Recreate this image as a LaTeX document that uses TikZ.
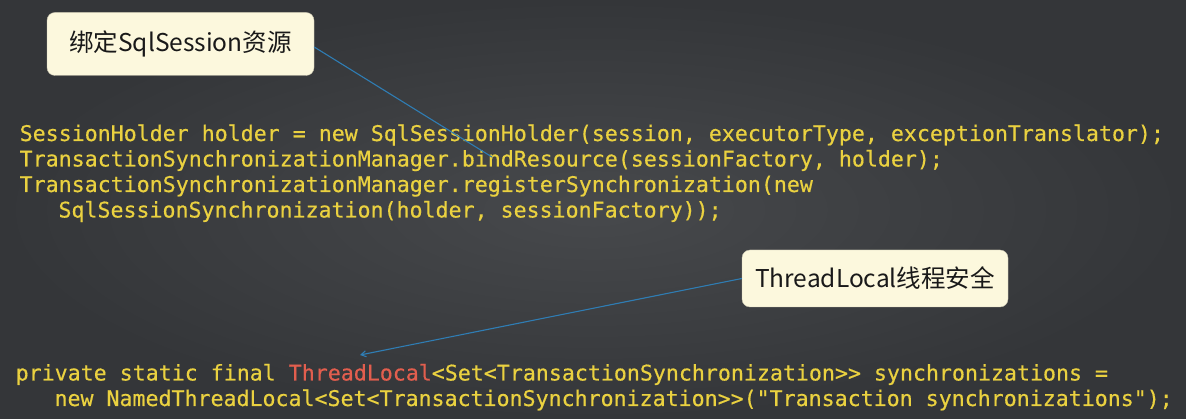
\documentclass[tikz,border=0pt]{standalone}
\usepackage{fontspec}
\setmonofont[FakeBold=0.4]{DejaVu Sans Mono}
\newfontfamily\cjk{Noto Sans CJK SC}
\usetikzlibrary{arrows.meta}
\definecolor{bgdark}{HTML}{343639}
\definecolor{bglight}{HTML}{47494C}
\definecolor{codeyellow}{HTML}{EAD140}
\definecolor{codered}{HTML}{E25E4E}
\definecolor{notefill}{HTML}{FCF8DD}
\definecolor{pointer}{HTML}{2F7DB4}
\tikzset{
  codeline/.style={anchor=base west, inner sep=0pt, text=codeyellow,
    font=\ttfamily\fontsize{21.6}{25}\selectfont},
  note/.style={fill=notefill, draw=notefill!80!black, line width=0.4pt,
    rounded corners=8pt, inner sep=0pt, text=black!90,
    font=\cjk\fontsize{24.5}{28}\selectfont},
  pointerline/.style={draw=pointer, line width=1.1pt}
}
\newcommand{\CodeLine}[3]{\node[codeline] (#1) at (#2) {#3};}
\newcommand{\Note}[4][]{\node[note, #1] (#2) at (#3) {#4};}

\begin{document}
\begin{tikzpicture}[x=1pt, y=-1pt]
\useasboundingbox (0,0) rectangle (1186,419);
\shade[inner color=bglight, outer color=bgdark] (0,0) rectangle (1186,419);

\CodeLine{hold}{19.5,141}{SessionHolder holder = new SqlSessionHolder(session, executorType, exceptionTranslator);}
\CodeLine{bind}{19.5,166.5}{TransactionSynchronizationManager.bindResource(sessionFactory, holder);}
\CodeLine{reg}{19.5,192}{TransactionSynchronizationManager.registerSynchronization(new}
\CodeLine{regnext}{58.3,217.5}{SqlSessionSynchronization(holder, sessionFactory));}

\CodeLine{decl}{15.5,380.5}{private static final \textcolor{codered}{ThreadLocal}<Set<TransactionSynchronization>> synchronizations =}
\CodeLine{declnext}{54.3,406}{new NamedThreadLocal<Set<TransactionSynchronization>>("Transaction synchronizations");}

\Note[minimum width=267pt, minimum height=63pt]{bindnote}{180.5,44}{绑定SqlSession资源}
\Note[minimum width=266pt, minimum height=57pt]{safenote}{875,278.5}{ThreadLocal线程安全}

\coordinate (bindtip) at (492,157);
\coordinate (safetip) at (360,355);

\draw[pointerline] ([yshift=-3pt]bindnote.east) -- (bindtip);
\draw[pointerline, -{Straight Barb[length=5pt, width=6pt]}] (safenote.west) -- (safetip);

\end{tikzpicture}
\end{document}
